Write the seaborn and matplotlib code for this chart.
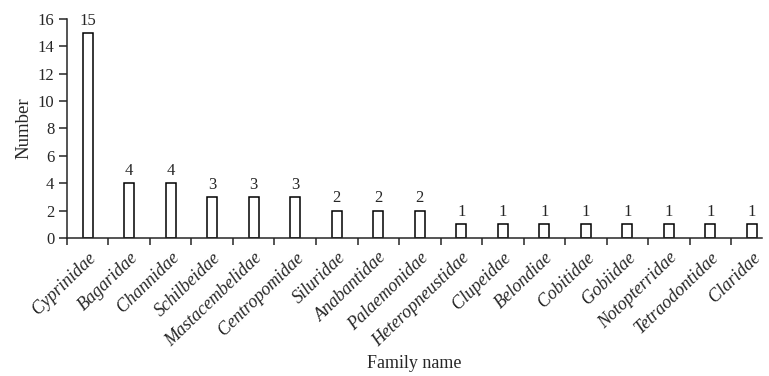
import matplotlib
matplotlib.use("Agg")
import matplotlib.pyplot as plt
import seaborn as sns
import pandas as pd
import numpy as np

families = ["Cyprinidae", "Bagaridae", "Channidae", "Schilbeidae", "Mastacembelidae",
            "Centropomidae", "Siluridae", "Anabantidae", "Palaemonidae", "Heteropneustidae",
            "Clupeidae", "Belondiae", "Cobitidae", "Gobiidae", "Notopterridae",
            "Tetraodontidae", "Claridae"]
counts = [15, 4, 4, 3, 3, 3, 2, 2, 2, 1, 1, 1, 1, 1, 1, 1, 1]

sns.set_style("ticks")
plt.rcParams["font.family"] = ["Liberation Serif", "DejaVu Serif"]
plt.rcParams["font.size"] = 12

df = pd.DataFrame({"family": families, "count": counts})

fig = plt.figure(figsize=(7.69, 3.76), dpi=100)
ax = fig.add_axes([0.0871, 0.367, 0.904, 0.5825])

sns.barplot(data=df, x="family", y="count", color="white", edgecolor="black",
            linewidth=1.1, width=0.25, saturation=1, ax=ax)

# value labels on top of each bar
for i, v in enumerate(counts):
    ax.annotate(str(v), (i, v), xytext=(0, 3), textcoords="offset points",
                ha="center", va="bottom", fontsize=12)

ax.set_ylim(0, 16)
ax.set_yticks(np.arange(0, 17, 2))
ax.set_xlim(-0.5, 16.25)

# category labels centred on bars, tick marks between categories
ax.set_xticks(range(len(families)))
ax.set_xticklabels(families, rotation=44, ha="right", rotation_mode="anchor",
                   style="italic", fontsize=13)
ax.tick_params(axis="x", which="major", length=0, pad=8)
ax.set_xticks(np.arange(-0.5, len(families) - 0.5, 1), minor=True)
ax.tick_params(axis="x", which="minor", length=5, width=1.1, direction="out")
ax.tick_params(axis="y", length=6, width=1.1, direction="out", labelsize=12, pad=3)

for s in ["top", "right"]:
    ax.spines[s].set_visible(False)
for s in ["left", "bottom"]:
    ax.spines[s].set_linewidth(1.1)

ax.set_xlabel("Family name", fontsize=13, labelpad=4)
ax.set_ylabel("Number", fontsize=13.5, labelpad=4)

fig.savefig("out.png", dpi=100)
